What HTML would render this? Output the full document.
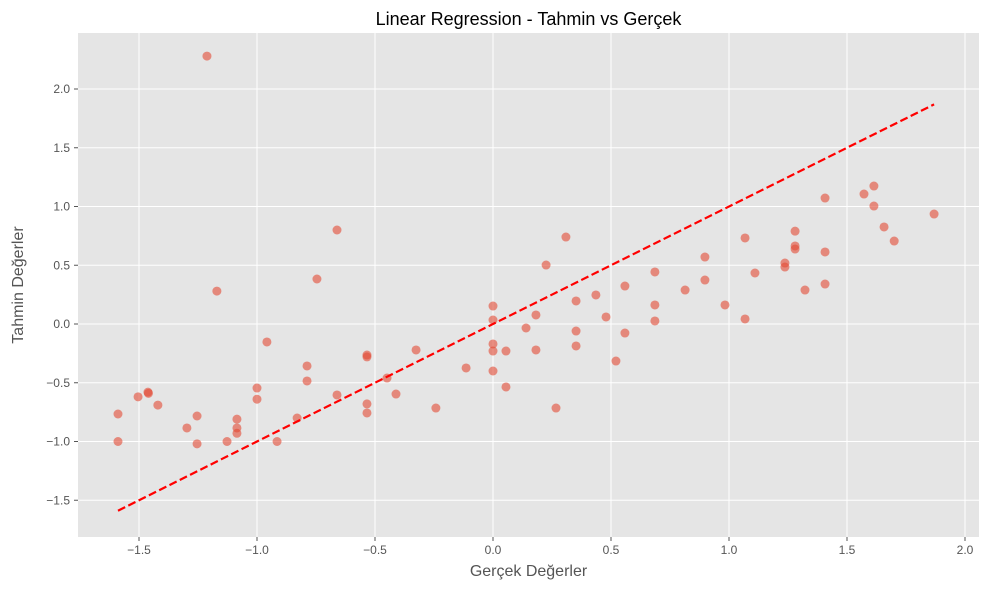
<!DOCTYPE html>
<html><head><meta charset="utf-8"><style>body{margin:0;background:#fff}svg{display:block;font-family:"Liberation Sans","DejaVu Sans",sans-serif}</style></head>
<body>
<svg id="chart" width="989" height="590" viewBox="0 0 989 590"></svg>
<script>
const xTicks=[-1.5,-1.0,-0.5,0.0,0.5,1.0,1.5,2.0];
const yTicks=[-1.5,-1.0,-0.5,0.0,0.5,1.0,1.5,2.0];
const actual=[-1.589,-1.589,-1.504,-1.462,-1.46,-1.42,-1.297,-1.254,-1.254,-1.212,-1.17,-1.127,-1.085,-1.085,-1.085,-1.0,-1.0,-0.958,-0.915,-0.83,-0.788,-0.788,-0.746,-0.661,-0.661,-0.534,-0.534,-0.534,-0.534,-0.449,-0.411,-0.326,-0.242,-0.114,0,0,0,0,0,0.055,0.055,0.14,0.182,0.182,0.225,0.267,0.309,0.352,0.352,0.352,0.436,0.479,0.521,0.559,0.559,0.686,0.686,0.686,0.814,0.898,0.898,0.983,1.068,1.068,1.11,1.237,1.237,1.28,1.28,1.28,1.322,1.407,1.407,1.407,1.572,1.614,1.614,1.657,1.7,1.869];
const predicted=[-0.766,-1.0,-0.62,-0.58,-0.59,-0.69,-0.885,-0.783,-1.02,2.28,0.28,-1.0,-0.81,-0.885,-0.93,-0.545,-0.64,-0.153,-1.0,-0.8,-0.357,-0.485,0.383,0.8,-0.604,-0.264,-0.28,-0.68,-0.757,-0.46,-0.596,-0.221,-0.715,-0.374,0.153,0.034,-0.17,-0.23,-0.4,-0.23,-0.536,-0.034,0.077,-0.221,0.502,-0.715,0.74,0.196,-0.06,-0.187,0.247,0.06,-0.315,0.323,-0.077,0.443,0.162,0.026,0.289,0.57,0.374,0.162,0.732,0.043,0.434,0.519,0.485,0.79,0.664,0.638,0.289,1.072,0.613,0.34,1.106,1.174,1.004,0.826,0.706,0.936];
const NS='http://www.w3.org/2000/svg';
const svg=document.getElementById('chart');
const L=78,R=979,T=33,B=537;
const sx=v=>493+v*236, sy=v=>324-v*117.5;
const fmt=v=>v.toFixed(1).replace('-','\u2212');
function mk(t,a,p){const e=document.createElementNS(NS,t);for(const k in a)e.setAttribute(k,a[k]);(p||svg).appendChild(e);return e;}
const bg=mk('rect',{x:L,y:T,width:R-L,height:B-T,fill:'#e5e5e5'});


xTicks.forEach(v=>{const x=sx(v);
 const g=mk('line',{x1:x,x2:x,y1:T,y2:B,stroke:'#fff','stroke-width':1});
 
 
 mk('line',{x1:x,x2:x,y1:B,y2:B+4,stroke:'#555'});
 const t=mk('text',{x:x,y:B+17,'text-anchor':'middle','font-size':12,fill:'#555'});t.textContent=fmt(v);
 
 
});
yTicks.forEach(v=>{const y=sy(v);
 const g=mk('line',{x1:L,x2:R,y1:y,y2:y,stroke:'#fff','stroke-width':1});
 
 
 mk('line',{x1:L-4,x2:L,y1:y,y2:y,stroke:'#555'});
 const t=mk('text',{x:L-8,y:y+4,'text-anchor':'end','font-size':12,fill:'#555'});t.textContent=fmt(v);
 
 
});
actual.forEach((a,i)=>{const c=mk('circle',{cx:sx(a),cy:sy(predicted[i]),r:4.5,fill:'#E24A33','fill-opacity':0.6});
 
 
});
const mn=Math.min(...actual),mx=Math.max(...actual);
const ln=mk('line',{x1:sx(mn),y1:sy(mn),x2:sx(mx),y2:sy(mx),stroke:'#ff0000','stroke-width':2.2,'stroke-dasharray':'8,3.5'});


const ti=mk('text',{x:(L+R)/2,y:25,'text-anchor':'middle','font-size':18,fill:'#000'});ti.textContent='Linear Regression - Tahmin vs Gerçek';


const xl=mk('text',{x:(L+R)/2,y:576,'text-anchor':'middle','font-size':16,fill:'#555'});xl.textContent='Gerçek Değerler';


const yl=mk('text',{x:0,y:0,'text-anchor':'middle','font-size':16,fill:'#555',transform:'translate(23,285) rotate(-90)'});yl.textContent='Tahmin Değerler';


</script>
</body></html>
